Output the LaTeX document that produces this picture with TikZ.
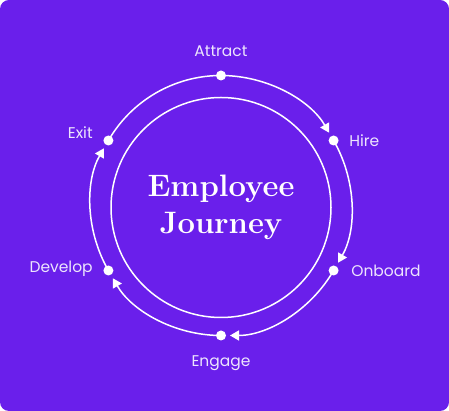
\documentclass[tikz,border=0pt]{standalone}
\usepackage{fontspec}
\newfontfamily\stagefont{Poppins}
\usepackage{tikz}
\usetikzlibrary{arrows.meta,positioning}
\definecolor{journeybg}{HTML}{6A1FEB}
\definecolor{labeltxt}{HTML}{EDE5FD}

\begin{document}
\begin{tikzpicture}[
    x=1pt, y=1pt,
    % GLOBAL CFG
    >={Triangle[length=9pt,width=10pt]},
    % Styles
    ring/.style={% For the inner circle
        circle,
        draw=white,
        line width=1.5pt,
        inner sep=0pt,
        },
    stage/.style={% White dots on the outer ring
        circle,
        fill=white,
        minimum size=10pt,
        inner sep=0pt,
        },
    mylabel/.style={% Stage names
        font=\stagefont\fontsize{15.5}{18}\selectfont,
        text=labeltxt,
        },
    flow/.style={% Arcs from one stage to the next
        white,
        line width=1.5pt,
        shorten >=9pt,
        },
    ]

%Background card
\fill[journeybg, rounded corners=9pt] (0,0) rectangle (449,411);
\useasboundingbox (0,0) rectangle (449,411);

% Draw the circle in the middle:
\coordinate (c) at (221,205.5);
\node[ring, minimum size=220pt, text=white, align=center, yshift=-2pt,
      font=\bfseries\fontsize{31}{37}\selectfont] (inner) at (c) {Employee\\Journey};

% The stages, on a ring of radius 130
\node[stage, label={[mylabel, label distance=10pt]above:Attract}] (attract) at ([shift={(90:130)}]c) {};
\node[stage, label={[mylabel, label distance=7pt]right:Hire}] (hire) at ([shift={(30:130)}]c) {};
\node[stage, label={[mylabel, label distance=9pt]right:Onboard}] (onboard) at ([shift={(-30:130)}]c) {};
\node[stage, label={[mylabel, label distance=11pt]below:Engage}] (engage) at ([shift={(-90:130)}]c) {};
\node[stage, label={[mylabel, label distance=7pt, yshift=2pt]left:Develop}] (develop) at ([shift={(210:130)}]c) {};
\node[stage, label={[mylabel, label distance=7pt, yshift=8pt]left:Exit}] (exit) at ([shift={(150:130)}]c) {};

% Connecting all the stages
\draw [->, flow] (attract.center) arc[start angle=90, end angle=30, radius=130];
\draw [->, flow] (hire.center) arc[start angle=30, end angle=-30, radius=130];
\draw [->, flow] (onboard.center) arc[start angle=-30, end angle=-90, radius=130];
\draw [->, flow] (engage.center) arc[start angle=270, end angle=210, radius=130];
\draw [->, flow] (develop.center) arc[start angle=210, end angle=150, radius=130];
\draw [flow, shorten >=0pt] (exit.center) arc[start angle=150, end angle=90, radius=130];
\end{tikzpicture}
\end{document}
